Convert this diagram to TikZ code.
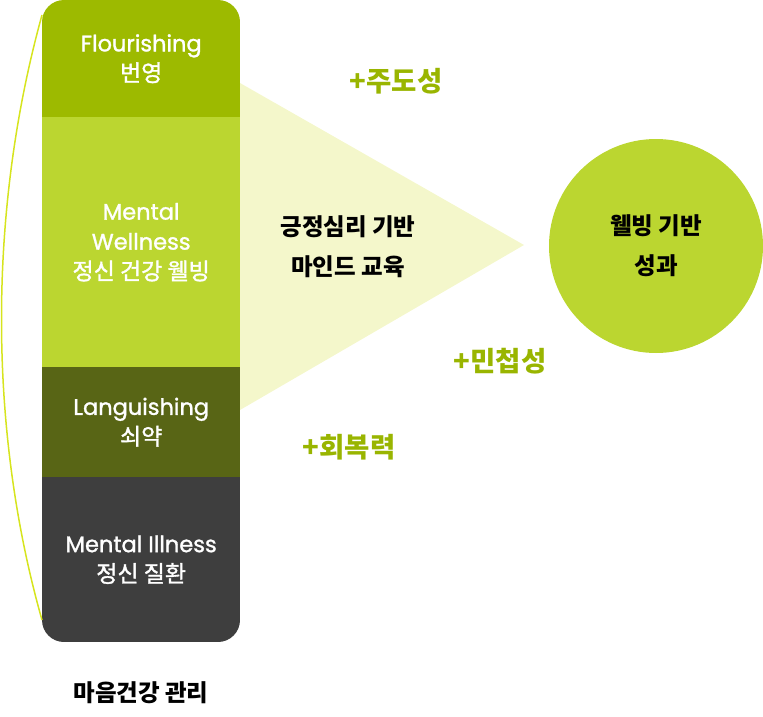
\documentclass[tikz,border=0pt]{standalone}
\usepackage{fontspec}
\setmainfont{Poppins}
\newfontfamily\kr{Noto Sans CJK KR}
\newfontfamily\barlatin{Poppins}[FakeBold=1.3]
\newfontfamily\barkr{Noto Sans CJK KR}[FakeBold=1.4]

\definecolor{flourish}{HTML}{9DBA00}
\definecolor{wellness}{HTML}{BBD630}
\definecolor{languish}{HTML}{586515}
\definecolor{illness}{HTML}{3E3E3E}
\definecolor{wedge}{HTML}{F4F7CB}
\definecolor{bracket}{HTML}{D6E41E}
\definecolor{plustext}{HTML}{99B500}

\newcommand{\krline}[1]{{\barkr\fontsize{23}{30}\selectfont #1}}

\begin{document}
\begin{tikzpicture}[
  x = 1pt, y = -1pt,
  band/.style = {minimum width = 198pt, inner sep = 0pt, anchor = north west,
                 text = white, align = center, font = \barlatin\fontsize{22.5}{30}\selectfont},
  plus/.style = {text = plustext, font = \kr\bfseries\fontsize{27.5}{30}\selectfont},
  dark/.style = {text = black, align = center, font = \kr\bfseries\fontsize{23.5}{40}\selectfont},
  ]
  \useasboundingbox (0,0) rectangle (763,717);

  % wedge behind the bar
  \coordinate (wtop) at (240,83);
  \coordinate (wbot) at (240,410);
  \coordinate (wtip) at (524,245);
  \fill[wedge] (wtop) -- (wtip) -- (wbot) -- cycle;

  % the bar
  \begin{scope}
    \clip[rounded corners = 22pt] (42,0) rectangle (240,642);
    \node[band, fill = flourish, minimum height = 117pt] (flour) at (42,0)
      {Flourishing\\\krline{번영}};
    \node[band, fill = wellness, minimum height = 250pt] (well) at (42,117)
      {Mental\\Wellness\\\krline{정신 건강 웰빙}};
    \node[band, fill = languish, minimum height = 110pt] (lang) at (42,367)
      {Languishing\\\krline{쇠약}};
    \node[band, fill = illness, minimum height = 165pt] (ill) at (42,477)
      {Mental Illness\\\krline{정신 질환}};
  \end{scope}

  % bracket
  \coordinate (btop) at (42,15);
  \coordinate (bbot) at (42,620);
  \draw[bracket, line width = 1.5pt] (btop) .. controls (-12,210) and (-12,430) .. (bbot);

  \node[dark] (edu) at (348,247) {긍정심리 기반\\마인드 교육};
  \node[circle, fill = wellness, minimum size = 214pt, inner sep = 0pt] (result) at (656,246) {};
  \node[dark] (resulttext) at (result) {웰빙 기반\\성과};

  \node[plus] (p1) at (396,81) {+주도성};
  \node[plus] (p2) at (500,361) {+민첩성};
  \node[plus] (p3) at (349,447) {+회복력};

  \node[dark] (care) at (141,693) {마음건강 관리};
\end{tikzpicture}
\end{document}
